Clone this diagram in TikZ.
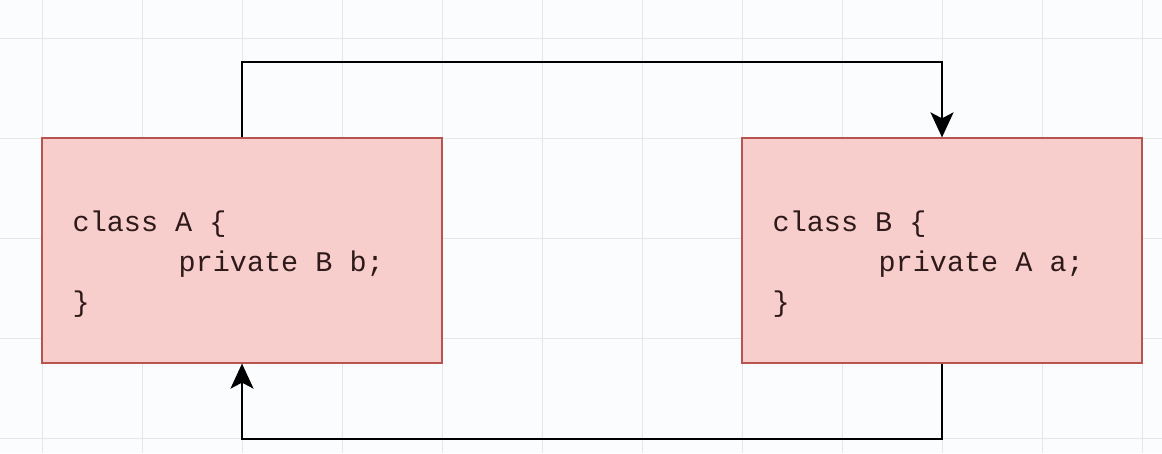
\documentclass[tikz,border=0pt]{standalone}
\usepackage{fontspec}
\setmonofont{Liberation Mono}
\usetikzlibrary{arrows.meta,positioning}
\definecolor{pinkfill}{HTML}{F8CECC}
\definecolor{pinkline}{HTML}{B85450}
\definecolor{gridgray}{HTML}{E4E6EA}
\definecolor{paper}{HTML}{FBFCFE}
\definecolor{codeink}{HTML}{2E1A1A}
\tikzset{
  classbox/.style={draw=pinkline, fill=pinkfill, line width=0.7pt,
    minimum width=8cm, minimum height=4.5cm, inner sep=0pt},
  code/.style={align=left, text=codeink, inner sep=0pt,
    font=\ttfamily\fontsize{16.2}{22.7}\selectfont},
  link/.style={line width=1.2pt, -{Stealth[length=0.5cm, width=0.46cm, inset=0.12cm]}}
}
\begin{document}
\begin{tikzpicture}[x=2cm, y=2cm] % Cycle
         \fill[paper] (0,0) rectangle (11.62,4.53);
         \useasboundingbox (0,0) rectangle (11.62,4.53);
             \foreach \gx in {0.42,1.42,...,11.42}
               \draw[gridgray, line width=0.5pt] (\gx,0) -- (\gx,4.53);
             \foreach \gy in {0.15,1.15,...,4.15}
               \draw[gridgray, line width=0.5pt] (0,\gy) -- (11.62,\gy);
         \node[classbox] (A) at (2.42,2.025) {};
         \node[classbox] (B) at (9.42,2.025) {};
         \node[code, anchor=west] (Atext) at ([xshift=0.62cm, yshift=-0.28cm]A.west)
           {class A \{\\\hspace*{2.12cm}private B b;\\\}};
         \node[code, anchor=west] (Btext) at ([xshift=0.62cm, yshift=-0.28cm]B.west)
           {class B \{\\\hspace*{2.12cm}private A a;\\\}};
         \draw[link] (A.north) -- ++(0,0.75) -| (B.north);
         \draw[link] (B.south) -- ++(0,-0.75) -| (A.south);
      \end{tikzpicture}
\end{document}
